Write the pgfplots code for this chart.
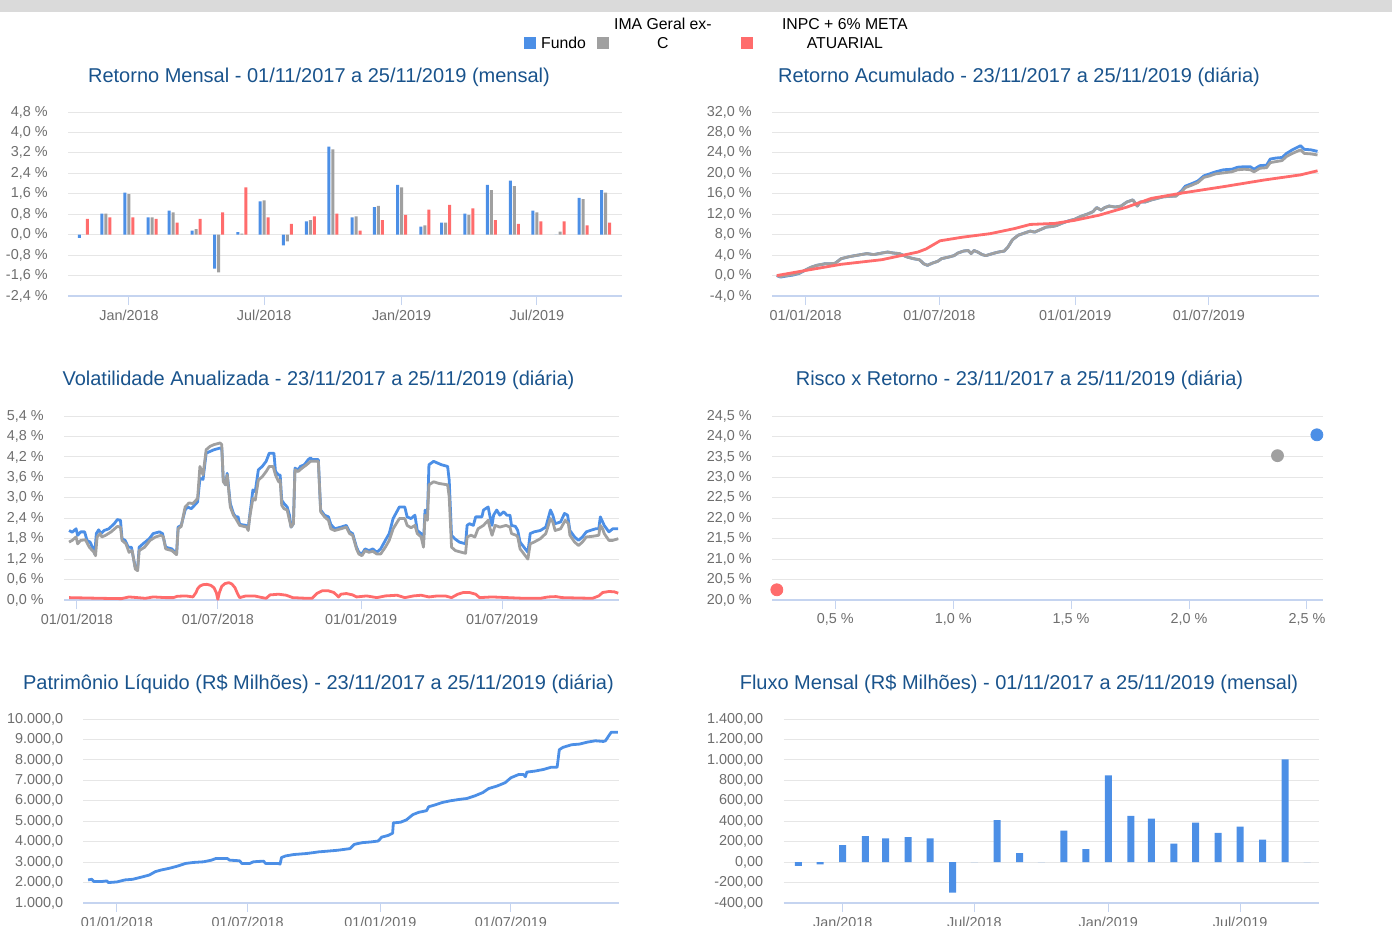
\documentclass[border=0pt]{standalone}
\usepackage{fontspec}
\setmainfont{Liberation Sans}
\usepackage{pgfplots}
\pgfplotsset{compat=1.18}
\definecolor{fundo}{RGB}{76,143,230}
\definecolor{ima}{RGB}{160,160,160}
\definecolor{inpc}{RGB}{255,108,108}
\definecolor{titleblue}{RGB}{25,83,140}
\definecolor{gridgray}{RGB}{230,230,230}
\definecolor{axisblue}{RGB}{197,212,240}
\definecolor{ticktext}{RGB}{110,110,110}
\definecolor{topstrip}{RGB}{218,218,218}
\newcommand\ticksize{\fontsize{7.2}{8.6}\selectfont}
\newcommand\titlesize{\fontsize{10}{12}\selectfont}
\newcommand\legsize{\fontsize{7.9}{9.5}\selectfont}
\pgfplotsset{
  panel/.style={
    scale only axis,
    anchor=south west,
    axis x line*=bottom,
    axis y line*=left,
    y axis line style={draw=none},
    x axis line style={draw=axisblue, line width=0.6pt},
    ymajorgrids,
    grid style={draw=gridgray, line width=0.5pt},
    tick align=outside,
    major tick length=4.5pt,
    xtick style={draw=axisblue, line width=0.5pt},
    ytick style={draw=none},
    tick label style={font=\ticksize, text=ticktext},
    yticklabel style={anchor=east, inner sep=0pt, xshift=-5.5pt},
    xticklabel style={anchor=north, inner sep=0pt, yshift=-2.25pt},
    scaled ticks=false,
    enlargelimits=false,
    /pgf/number format/assume math mode=true,
  },
  tl/.style={line width=1.4pt, line join=round},
}
\begin{document}
\begin{tikzpicture}
\path[use as bounding box] (0pt,0pt) rectangle (696pt,-463pt);
\fill[topstrip] (0pt,0pt) rectangle (696pt,-5.75pt);
% titles
\node[font=\titlesize, text=titleblue] at (159.5pt,-38.5pt) {Retorno Mensal - 01/11/2017 a 25/11/2019 (mensal)};
\node[font=\titlesize, text=titleblue] at (509.5pt,-38.5pt) {Retorno Acumulado - 23/11/2017 a 25/11/2019 (diária)};
\node[font=\titlesize, text=titleblue] at (159.25pt,-190pt) {Volatilidade Anualizada - 23/11/2017 a 25/11/2019 (diária)};
\node[font=\titlesize, text=titleblue] at (509.75pt,-190pt) {Risco x Retorno - 23/11/2017 a 25/11/2019 (diária)};
\node[font=\titlesize, text=titleblue] at (159.25pt,-342pt) {Patrimônio Líquido (R\$ Milhões) - 23/11/2017 a 25/11/2019 (diária)};
\node[font=\titlesize, text=titleblue] at (509.5pt,-342pt) {Fluxo Mensal (R\$ Milhões) - 01/11/2017 a 25/11/2019 (mensal)};

% ---------- Panel 1: Retorno Mensal
\begin{axis}[panel, at={(34pt,-148pt)}, width=277pt, height=92pt,
  xmin=-81.6, xmax=660, ymin=-2.4, ymax=4.8,
  xtick={0,181,365,546}, xticklabels={Jan/2018,Jul/2018,Jan/2019,Jul/2019},
  ytick={-2.4,-1.6,-0.8,0,0.8,1.6,2.4,3.2,4.0,4.8},
  yticklabels={{-2,4 \%},{-1,6 \%},{-0,8 \%},{0,0 \%},{0,8 \%},{1,6 \%},{2,4 \%},{3,2 \%},{4,0 \%},{4,8 \%}},
  ybar=0.5pt, bar width=1.5pt]
\addplot[fill=fundo, draw=none] coordinates {(-61,-0.13) (-31,0.82) (0,1.65) (31,0.68) (59,0.94) (90,0.16) (120,-1.33) (151,0.10) (181,1.30) (212,-0.42) (243,0.52) (273,3.45) (304,0.68) (334,1.08) (365,1.95) (396,0.31) (424,0.47) (455,0.82) (485,1.95) (516,2.11) (546,0.94) (577,0.00) (608,1.44) (638,1.74)};
\addplot[fill=ima, draw=none] coordinates {(-61,0.00) (-31,0.82) (0,1.59) (31,0.68) (59,0.87) (90,0.22) (120,-1.48) (151,0.04) (181,1.34) (212,-0.26) (243,0.57) (273,3.34) (304,0.72) (334,1.13) (365,1.85) (396,0.36) (424,0.47) (455,0.77) (485,1.74) (516,1.90) (546,0.87) (577,0.12) (608,1.39) (638,1.65)};
\addplot[fill=inpc, draw=none] coordinates {(-61,0.62) (-31,0.68) (0,0.68) (31,0.62) (59,0.47) (90,0.62) (120,0.87) (151,1.85) (181,0.68) (212,0.42) (243,0.72) (273,0.82) (304,0.16) (334,0.57) (365,0.77) (396,0.98) (424,1.17) (455,1.03) (485,0.57) (516,0.42) (546,0.52) (577,0.52) (608,0.36) (638,0.47)};
\end{axis}

% ---------- Panel 2: Retorno Acumulado
\begin{axis}[panel, at={(386pt,-148pt)}, width=273.5pt, height=92pt,
  xmin=-45.5, xmax=695, ymin=-4, ymax=32,
  xtick={0,181,365,546}, xticklabels={01/01/2018,01/07/2018,01/01/2019,01/07/2019},
  ytick={-4,0,4,8,12,16,20,24,28,32},
  yticklabels={{-4,0 \%},{0,0 \%},{4,0 \%},{8,0 \%},{12,0 \%},{16,0 \%},{20,0 \%},{24,0 \%},{28,0 \%},{32,0 \%}}]
\addplot[tl, fundo] coordinates {(-39,0.0) (-34,-0.3) (-26,-0.1) (-17,0.1) (-9,0.4) (0,1.1) (7,1.6) (15,2.0) (26,2.3) (32,2.3) (40,2.4) (48,3.3) (59,3.7) (67,3.9) (75,4.1) (83,4.3) (92,4.1) (103,4.4) (111,4.6) (119,4.4) (127,4.3) (133,3.9) (138,3.6) (146,3.3) (154,3.1) (160,2.3) (165,2.0) (171,2.4) (179,2.8) (184,3.3) (193,3.6) (201,3.9) (206,4.4) (214,4.8) (220,4.9) (224,4.3) (228,4.9) (233,4.6) (239,4.1) (244,3.9) (253,4.3) (261,4.6) (269,4.8) (274,5.6) (280,7.0) (288,7.9) (296,8.3) (304,8.7) (310,8.5) (318,9.0) (326,9.5) (334,9.6) (340,9.8) (348,10.3) (356,10.7) (364,11.0) (373,11.6) (381,12.0) (389,12.5) (394,13.3) (400,12.8) (405,13.3) (411,13.6) (419,13.4) (427,13.6) (435,14.4) (443,14.8) (449,13.6) (453,14.4) (460,14.4) (468,14.8) (476,15.1) (484,15.4) (493,15.5) (501,15.6) (509,16.6) (514,17.5) (523,18.0) (531,18.5) (539,19.5) (547,19.9) (555,20.3) (566,20.7) (577,20.8) (585,21.2) (594,21.3) (602,21.3) (607,20.8) (615,21.5) (624,21.6) (629,22.8) (637,23.0) (645,23.1) (651,23.9) (659,24.6) (670,25.4) (675,24.7) (684,24.6) (693,24.3)};
\addplot[tl, ima] coordinates {(-39,0.0) (-34,-0.2) (-26,0.0) (-17,0.2) (-9,0.46) (0,1.1) (7,1.6) (15,2.0) (26,2.3) (32,2.3) (40,2.4) (48,3.3) (59,3.7) (67,3.9) (75,4.1) (83,4.3) (92,4.1) (103,4.4) (111,4.6) (119,4.4) (127,4.3) (133,3.9) (138,3.6) (146,3.3) (154,3.1) (160,2.3) (165,2.0) (171,2.4) (179,2.8) (184,3.3) (193,3.6) (201,3.9) (206,4.4) (214,4.8) (220,4.9) (224,4.3) (228,4.9) (233,4.6) (239,4.1) (244,3.9) (253,4.3) (261,4.6) (269,4.8) (274,5.6) (280,7.0) (288,7.9) (296,8.3) (304,8.7) (310,8.5) (318,9.0) (326,9.5) (334,9.6) (340,9.8) (348,10.3) (356,10.7) (364,11.0) (373,11.6) (381,12.0) (389,12.5) (394,13.3) (400,12.8) (405,13.3) (411,13.6) (419,13.4) (427,13.6) (435,14.4) (443,14.8) (449,13.6) (453,14.4) (460,14.4) (468,14.8) (476,15.1) (484,15.4) (493,15.5) (501,15.5) (509,16.4) (514,17.2) (523,17.7) (531,18.2) (539,19.2) (547,19.5) (555,19.9) (566,20.1) (577,20.3) (585,20.7) (594,20.8) (602,20.7) (607,20.3) (615,21.0) (624,21.1) (629,22.1) (637,22.3) (645,22.5) (651,23.3) (659,23.9) (670,24.6) (675,23.9) (684,23.8) (693,23.6)};
\addplot[tl, inpc] coordinates {(-39,0.0) (0,1.0) (48,2.2) (103,3.1) (152,4.6) (163,5.2) (182,6.8) (212,7.5) (250,8.2) (283,9.2) (304,10.0) (337,10.2) (364,10.8) (397,11.8) (435,13.4) (468,15.1) (512,16.2) (566,17.4) (621,18.7) (670,19.7) (693,20.5)};
\end{axis}

% ---------- Panel 3: Volatilidade
\begin{axis}[panel, at={(32pt,-300pt)}, width=277.5pt, height=92pt,
  xmin=-16.5, xmax=696, ymin=0, ymax=5.4,
  xtick={0,181,365,546}, xticklabels={01/01/2018,01/07/2018,01/01/2019,01/07/2019},
  ytick={0,0.6,1.2,1.8,2.4,3.0,3.6,4.2,4.8,5.4},
  yticklabels={{0,0 \%},{0,6 \%},{1,2 \%},{1,8 \%},{2,4 \%},{3,0 \%},{3,6 \%},{4,2 \%},{4,8 \%},{5,4 \%}}]
\addplot[tl, fundo] coordinates {(-10,2.04) (-6,1.99) (-1,2.09) (1,1.90) (5,2.0) (10,2.0) (13,1.75) (17,1.70) (21,1.50) (23,1.35) (25,1.95) (28,2.06) (31,1.95) (35,2.04) (41,2.09) (48,2.24) (52,2.36) (56,2.34) (58,1.80) (62,1.75) (66,1.55) (70,1.55) (75,0.96) (78,0.91) (80,1.55) (85,1.65) (93,1.80) (98,1.95) (106,2.0) (110,1.95) (114,1.55) (122,1.50) (128,1.35) (130,2.14) (134,2.19) (139,2.64) (142,2.73) (147,2.68) (153,2.83) (155,2.88) (158,3.57) (162,3.54) (166,4.31) (171,4.36) (176,4.41) (184,4.46) (186,4.46) (188,3.52) (191,3.38) (193,3.72) (197,2.83) (201,2.54) (204,2.44) (207,2.44) (209,2.22) (217,2.19) (220,2.12) (222,2.49) (226,3.23) (229,3.18) (233,3.82) (238,3.92) (243,4.07) (247,4.31) (253,4.31) (255,3.77) (259,3.67) (261,3.67) (263,2.93) (266,2.83) (270,2.73) (273,2.49) (275,2.14) (278,2.24) (280,3.87) (284,3.82) (287,3.92) (292,3.97) (297,4.12) (300,4.17) (302,4.12) (310,4.12) (313,2.64) (318,2.49) (323,2.44) (326,2.22) (331,2.09) (339,2.14) (346,2.19) (350,2.0) (354,1.95) (359,1.55) (362,1.40) (366,1.35) (370,1.50) (375,1.45) (380,1.50) (385,1.40) (390,1.50) (396,1.75) (401,1.95) (406,2.39) (414,2.73) (421,2.73) (424,2.44) (429,2.39) (434,2.49) (437,2.04) (442,1.95) (445,1.70) (447,2.64) (450,2.44) (452,3.97) (458,4.07) (463,4.02) (468,3.97) (476,3.92) (478,3.52) (481,1.90) (485,1.80) (491,1.70) (499,1.65) (501,2.19) (504,2.24) (509,2.19) (512,2.44) (520,2.44) (522,2.64) (528,2.73) (530,2.49) (533,2.19) (535,2.49) (539,2.64) (543,2.49) (548,2.59) (552,2.49) (556,2.49) (558,2.19) (563,2.16) (566,2.04) (569,1.70) (574,1.55) (579,1.40) (582,1.95) (587,2.0) (595,2.04) (602,2.14) (608,2.64) (611,2.49) (614,2.24) (621,2.29) (626,2.54) (630,2.49) (633,2.04) (639,1.85) (644,1.75) (649,1.85) (654,2.0) (659,2.04) (666,2.09) (670,2.09) (672,2.44) (675,2.29) (677,2.19) (683,2.0) (688,2.09) (695,2.09)};
\addplot[tl, ima] coordinates {(-10,1.70) (-6,1.75) (-1,1.85) (1,1.65) (5,1.75) (11,1.77) (16,1.55) (22,1.40) (24,1.30) (26,1.85) (30,1.95) (32,1.85) (37,1.90) (44,2.0) (52,2.16) (56,2.14) (58,1.75) (63,1.65) (67,1.40) (71,1.45) (75,0.91) (78,0.86) (80,1.45) (87,1.55) (94,1.75) (101,1.85) (108,1.90) (111,1.85) (114,1.50) (122,1.45) (128,1.33) (130,2.09) (134,2.16) (139,2.73) (144,2.85) (149,2.83) (155,2.98) (158,3.92) (162,3.67) (166,4.41) (171,4.51) (176,4.56) (184,4.61) (186,4.56) (188,3.47) (191,3.38) (193,3.67) (197,2.73) (201,2.49) (204,2.39) (209,2.19) (218,2.14) (220,2.04) (222,2.44) (226,2.98) (229,2.93) (233,3.52) (238,3.62) (243,3.77) (247,3.92) (252,3.92) (255,3.67) (259,3.47) (261,3.52) (263,2.78) (266,2.68) (270,2.64) (273,2.34) (275,2.14) (278,2.24) (280,3.82) (284,3.77) (289,3.87) (295,3.97) (300,4.07) (310,4.07) (313,2.59) (318,2.44) (323,2.34) (326,2.09) (331,2.04) (339,2.09) (346,2.14) (350,1.95) (354,1.90) (359,1.50) (362,1.35) (366,1.30) (370,1.45) (375,1.40) (380,1.43) (385,1.35) (390,1.35) (396,1.55) (401,1.75) (406,2.09) (414,2.39) (421,2.39) (424,2.19) (429,2.12) (434,2.19) (437,1.95) (442,1.85) (445,1.55) (447,2.49) (450,2.34) (452,3.38) (458,3.47) (465,3.42) (476,3.38) (478,3.03) (481,1.55) (486,1.45) (494,1.40) (499,1.37) (501,1.85) (506,1.90) (511,1.85) (515,2.09) (522,2.19) (528,2.34) (530,2.14) (533,1.90) (537,2.19) (543,2.14) (551,2.19) (556,2.14) (558,1.95) (564,1.90) (566,1.85) (569,1.50) (574,1.35) (579,1.20) (582,1.65) (587,1.70) (595,1.80) (602,1.95) (608,2.39) (611,2.29) (614,2.04) (621,2.09) (627,2.34) (631,2.24) (633,1.90) (639,1.70) (644,1.60) (649,1.70) (654,1.85) (662,1.87) (670,1.90) (672,2.19) (675,2.09) (677,1.95) (683,1.75) (688,1.75) (695,1.80)};
\addplot[tl, inpc] coordinates {(-10,0.07) (31,0.05) (57,0.04) (67,0.09) (78,0.07) (88,0.05) (98,0.09) (114,0.07) (124,0.07) (129,0.11) (140,0.12) (149,0.09) (153,0.22) (155,0.33) (158,0.41) (162,0.45) (167,0.46) (172,0.43) (176,0.36) (179,0.22) (181,0.02) (183,0.22) (186,0.40) (190,0.48) (195,0.51) (199,0.47) (203,0.36) (206,0.20) (209,0.07) (217,0.12) (228,0.12) (238,0.07) (243,0.05) (248,0.15) (259,0.17) (269,0.14) (277,0.07) (295,0.05) (302,0.05) (308,0.19) (315,0.27) (323,0.27) (330,0.22) (336,0.09) (339,0.17) (346,0.19) (354,0.15) (359,0.09) (372,0.12) (385,0.07) (396,0.12) (411,0.14) (421,0.07) (432,0.12) (442,0.14) (452,0.09) (463,0.12) (473,0.12) (481,0.07) (489,0.17) (496,0.22) (504,0.22) (512,0.17) (517,0.07) (533,0.09) (553,0.07) (574,0.05) (595,0.05) (605,0.09) (615,0.10) (623,0.07) (641,0.06) (662,0.05) (670,0.12) (675,0.22) (683,0.25) (690,0.24) (695,0.20)};
\end{axis}

% ---------- Panel 4: Risco x Retorno
\begin{axis}[panel, at={(386pt,-300pt)}, width=275.5pt, height=92pt, clip=false,
  xmin=0.232, xmax=2.568, ymin=20, ymax=24.5,
  xtick={0.5,1.0,1.5,2.0,2.5}, xticklabels={{0,5 \%},{1,0 \%},{1,5 \%},{2,0 \%},{2,5 \%}},
  ytick={20,20.5,21,21.5,22,22.5,23,23.5,24,24.5},
  yticklabels={{20,0 \%},{20,5 \%},{21,0 \%},{21,5 \%},{22,0 \%},{22,5 \%},{23,0 \%},{23,5 \%},{24,0 \%},{24,5 \%}}]
\addplot[only marks, mark=*, mark size=3pt, color=inpc] coordinates {(0.2525,20.25)};
\addplot[only marks, mark=*, mark size=3pt, color=ima] coordinates {(2.375,23.53)};
\addplot[only marks, mark=*, mark size=3pt, color=fundo] coordinates {(2.542,24.04)};
\end{axis}

% ---------- Panel 5: Patrimonio Liquido
\begin{axis}[panel, at={(41.75pt,-451.5pt)}, width=267.75pt, height=92pt,
  xmin=-46.4, xmax=695.7, ymin=1000, ymax=10000,
  xtick={0,181,365,546}, xticklabels={01/01/2018,01/07/2018,01/01/2019,01/07/2019},
  ytick={1000,2000,3000,4000,5000,6000,7000,8000,9000,10000},
  yticklabels={{1.000,0},{2.000,0},{3.000,0},{4.000,0},{5.000,0},{6.000,0},{7.000,0},{8.000,0},{9.000,0},{10.000,0}}]
\addplot[tl, fundo] coordinates {(-40,2129) (-35,2161) (-32,2048) (-22,2048) (-14,2080) (-12,2000) (0,2032) (11,2129) (22,2161) (33,2258) (45,2371) (53,2532) (61,2613) (72,2694) (84,2806) (95,2935) (106,2984) (120,3016) (131,3097) (137,3177) (153,3177) (156,3097) (170,3065) (173,2935) (184,2935) (189,3016) (203,3048) (206,2935) (223,2935) (226,2903) (228,3226) (234,3306) (245,3371) (262,3419) (273,3468) (279,3500) (290,3532) (306,3581) (323,3661) (329,3871) (340,3952) (351,3984) (362,4032) (367,4226) (376,4306) (382,4419) (383,4919) (393,4952) (401,5065) (410,5323) (418,5435) (429,5516) (432,5710) (440,5790) (451,5919) (462,6000) (474,6065) (485,6113) (496,6242) (507,6403) (515,6597) (527,6726) (538,6887) (546,7129) (557,7290) (563,7290) (566,7177) (568,7403) (579,7452) (591,7532) (602,7645) (610,7645) (613,8500) (618,8613) (630,8742) (641,8774) (652,8871) (663,8935) (674,8903) (677,8935) (683,9258) (685,9355) (694,9355)};
\end{axis}

% ---------- Panel 6: Fluxo Mensal
\begin{axis}[panel, at={(391.75pt,-451.5pt)}, width=267.75pt, height=92pt,
  xmin=-81.4, xmax=654.5, ymin=-400, ymax=1400,
  xtick={0,181,365,546}, xticklabels={Jan/2018,Jul/2018,Jan/2019,Jul/2019},
  ytick={-400,-200,0,200,400,600,800,1000,1200,1400},
  yticklabels={{-400,00},{-200,00},{0,00},{200,00},{400,00},{600,00},{800,00},{1.000,00},{1.200,00},{1.400,00}},
  ybar, bar width=3.5pt]
\addplot[fill=fundo, draw=none] coordinates {(-61,-36) (-31,-23) (0,167) (31,255) (59,232) (90,245) (120,232) (151,-298) (181,0) (212,412) (243,88) (273,0) (304,308) (334,128) (365,848) (396,452) (424,425) (455,180) (485,386) (516,285) (546,347) (577,219) (608,1005) (638,0)};
\end{axis}

% ---------- Legend
\begin{axis}[hide axis, scale only axis, anchor=south west, at={(0pt,-463pt)},
  width=696pt, height=463pt, xmin=0, xmax=1, ymin=0, ymax=1,
  legend columns=3,
  legend image code/.code={\fill[#1] (0pt,0pt) rectangle (6pt,6pt);},
  legend style={at={(0.5230,0.9622)}, anchor=center, draw=none, fill=none,
    font=\legsize, inner sep=0pt, row sep=0pt,
    nodes={inner sep=0pt},
    cells={anchor=base west},
    /tikz/every odd column/.append style={column sep=2.5pt},
    /tikz/every even column/.append style={column sep=5.5pt}}]
\addlegendimage{fill=fundo, draw=none}
\addlegendentry{Fundo}
\addlegendimage{fill=ima, draw=none}
\addlegendentry{\makebox[58pt][l]{\parbox[b]{49pt}{\centering IMA Geral ex-\\C}}}
\addlegendimage{fill=inpc, draw=none}
\addlegendentry{\parbox[b]{87pt}{\centering INPC + 6\% META\\ATUARIAL}}
\end{axis}
\end{tikzpicture}
\end{document}
